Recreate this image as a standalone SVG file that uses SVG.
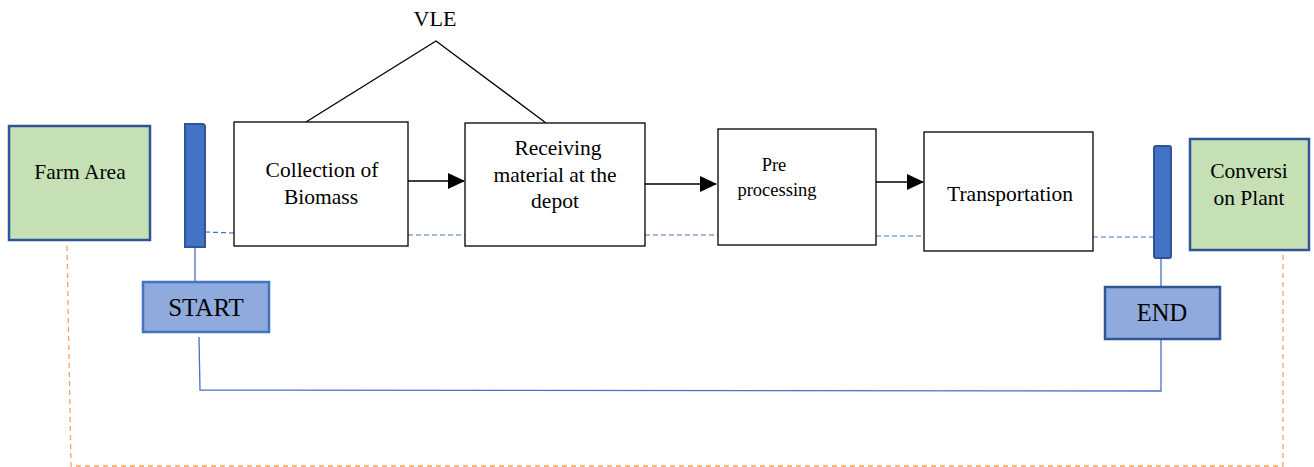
<svg xmlns="http://www.w3.org/2000/svg" width="1314" height="467" viewBox="0 0 1314 467">
<defs>
<style>
.t{font-family:"Liberation Serif","Times New Roman",serif;fill:#000;text-anchor:middle}
.box{fill:#fff;stroke:#000;stroke-width:1.3}
.green{fill:#c5e0b4;stroke:#2f5597;stroke-width:2.5}
.bar{fill:#4472c4;stroke:#2f5597;stroke-width:2}
.lbl{fill:#8faadc;stroke:#2f5597;stroke-width:2.5}
.arr{stroke:#000;stroke-width:1.5;fill:none;marker-end:url(#ah)}
.dash{stroke:#4472c4;stroke-width:1.2;stroke-dasharray:5 3;fill:none}
.solid{stroke:#4472c4;stroke-width:1.3;fill:none}
.orange{stroke:#f4a460;stroke-width:1.3;stroke-dasharray:5 4;fill:none}
</style>
<marker id="ah" markerWidth="17" markerHeight="16" refX="16" refY="8" orient="auto" markerUnits="userSpaceOnUse">
<path d="M0,0 L17,8 L0,16 z" fill="#000"/>
</marker>
</defs>
<g id="connectors">
<polyline class="orange" points="67,246 71,466 1283,466 1283,252"/>
<polyline class="solid" points="199,337 200,390 1161,391 1161,339"/>
<line class="solid" x1="195" y1="247" x2="195" y2="282"/>
<line class="solid" x1="1161" y1="258" x2="1161" y2="286"/>
<path class="dash" d="M205,232 L234,233 M408,235 L465,235 M645,235 L718,235 M876,236 L924,236 M1093,237 L1154,237"/>
<polyline points="306,122 436,41 546,123" fill="none" stroke="#000" stroke-width="1.3"/>
<line class="arr" x1="408" y1="181" x2="464" y2="181"/>
<line class="arr" x1="645" y1="184" x2="716" y2="184"/>
<line class="arr" x1="876" y1="182" x2="923" y2="182"/>
</g>
<g id="vle"><text class="t" x="435" y="26" font-size="22">VLE</text></g>
<g id="farm">
<rect class="green" x="9" y="126" width="141" height="114"/>
<text class="t" x="80" y="179" font-size="21.5">Farm Area</text>
</g>
<g id="startbar"><path class="bar" d="M185,124 H202 Q205,124 205,127 V247 H185 Z"/></g>
<g id="collection">
<rect class="box" x="234" y="122" width="174" height="124"/>
<text class="t" x="322" y="177" font-size="21.5">Collection of</text>
<text class="t" x="321" y="204" font-size="21.5">Biomass</text>
</g>
<g id="receiving">
<rect class="box" x="465" y="123" width="180" height="123"/>
<text class="t" x="558" y="155" font-size="21.5">Receiving</text>
<text class="t" x="555" y="182" font-size="21.5">material at the</text>
<text class="t" x="555" y="208" font-size="21.5">depot</text>
</g>
<g id="preprocessing">
<rect class="box" x="718" y="129" width="158" height="116"/>
<text class="t" x="774" y="171" font-size="18.5">Pre</text>
<text class="t" x="777" y="196" font-size="18.5">processing</text>
</g>
<g id="transportation">
<rect class="box" x="924" y="132" width="169" height="119"/>
<text class="t" x="1010" y="201" font-size="21.5">Transportation</text>
</g>
<g id="endbar"><rect class="bar" x="1154" y="146" width="17" height="112" rx="2"/></g>
<g id="conversion">
<rect class="green" x="1190" y="139" width="119" height="111"/>
<text class="t" x="1249" y="178" font-size="21.5">Conversi</text>
<text class="t" x="1249" y="205" font-size="21.5">on Plant</text>
</g>
<g id="start">
<rect class="lbl" x="143" y="282" width="126" height="50" style="stroke:#4472c4"/>
<text class="t" x="206" y="316" font-size="25">START</text>
</g>
<g id="end">
<rect class="lbl" x="1105" y="287" width="115" height="52"/>
<text class="t" x="1162" y="321" font-size="24.5">END</text>
</g>
</svg>
